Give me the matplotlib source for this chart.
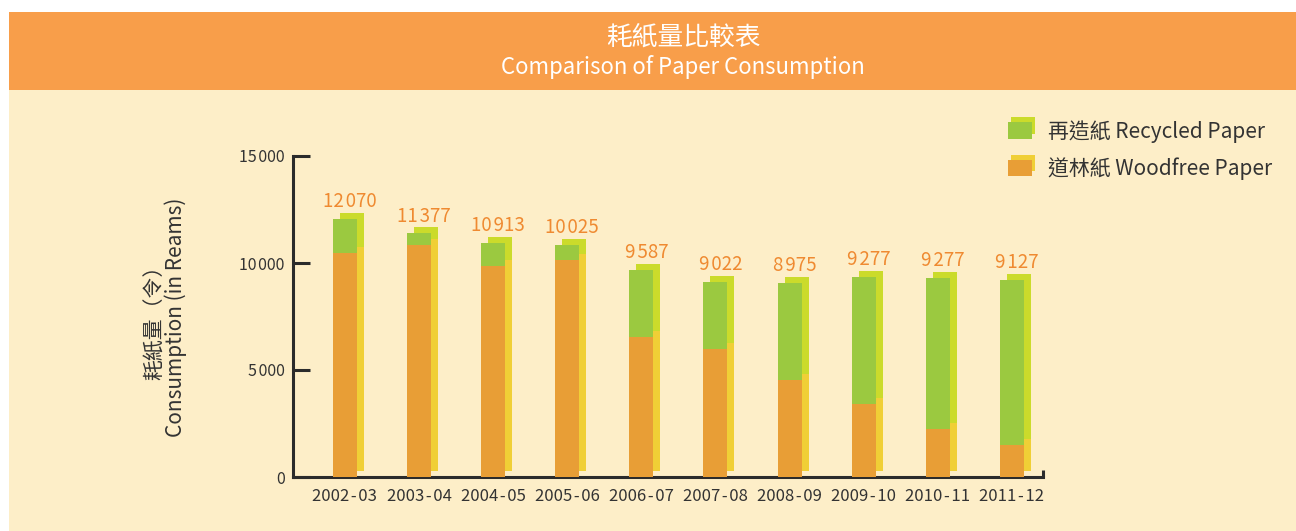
import matplotlib
matplotlib.use("Agg")
import matplotlib.pyplot as plt
import matplotlib.transforms as mtransforms
from matplotlib.patches import Rectangle, Patch
from matplotlib.legend_handler import HandlerBase
import numpy as np

plt.rcParams['font.family'] = ['Noto Sans CJK TC', 'DejaVu Sans']

# data
years = ['2002-03', '2003-04', '2004-05', '2005-06', '2006-07',
         '2007-08', '2008-09', '2009-10', '2010-11', '2011-12']
total_labels = [12070, 11377, 10913, 10025, 9587, 9022, 8975, 9277, 9277, 9127]
woodfree = [10460, 10835, 9855, 10130, 6540, 5980, 4530, 3410, 2240, 1495]
recycled = [1610, 545, 1060, 700, 3130, 3130, 4530, 5930, 7050, 7700]
y_ticks = [0, 5000, 10000, 15000]

# colours
BAND = '#F89E4A'
CREAM = '#FDEEC8'
ORANGE = '#E89E36'
GREEN = '#9BC940'
SH_YELLOW = '#F0CF36'
SH_GREEN = '#CBDB2B'
LABEL_ORANGE = '#EF8A31'
TEXT = '#333333'
AXIS = '#2B2B2B'

HAIR = '\u200a'


def fmt(v):
    return f'{v:,}'.replace(',', HAIR)


W, H = 1296, 531
fig = plt.figure(figsize=(W / 100, H / 100), dpi=100, facecolor='white')

# background panel + header band
fig.patches.append(Rectangle((9 / W, 0), 1, 1 - 90 / H, transform=fig.transFigure,
                             fc=CREAM, ec='none', zorder=-10))
fig.patches.append(Rectangle((9 / W, 1 - 90 / H), 1, 78 / H, transform=fig.transFigure,
                             fc=BAND, ec='none', zorder=-10))
fig.text(683 / W, 1 - 38 / H, '耗紙量比較表', color='white', fontsize=18.5,
         ha='center', va='center')
fig.text(683 / W, 1 - 67 / H, 'Comparison of Paper Consumption', color='white',
         fontsize=16, ha='center', va='center')

ax = fig.add_axes([293 / W, (H - 477) / H, 750 / W, 321 / H])
ax.set_facecolor('none')

x = np.arange(len(years))
bw = 0.324
tops = np.array(woodfree) + np.array(recycled)

# shadow bars shifted right/up
shift = ax.transData + mtransforms.ScaledTranslation(0.07, 0.06, fig.dpi_scale_trans)
sb1 = ax.bar(x, woodfree, bw, color=SH_YELLOW, zorder=2)
sb2 = ax.bar(x, recycled, bw, bottom=woodfree, color=SH_GREEN, zorder=2)
for r in list(sb1) + list(sb2):
    r.set_transform(shift)
    r.set_clip_on(False)

ax.bar(x, woodfree, bw, color=ORANGE, zorder=3)
ax.bar(x, recycled, bw, bottom=woodfree, color=GREEN, zorder=3)

for xi, top, lab in zip(x, tops, total_labels):
    ax.annotate(fmt(lab), (xi, top), xytext=(3.6, 8.6),
                textcoords='offset points', ha='center', va='baseline',
                color=LABEL_ORANGE, fontsize=13.5)

ax.set_xlim(-0.70, 9.42)
ax.set_ylim(0, 15000)
ax.set_xticks(x)
ax.set_xticklabels([y.replace('-', HAIR + '-' + HAIR) for y in years], fontsize=12, color=TEXT)
ax.set_yticks(y_ticks)
ax.set_yticklabels([fmt(v) for v in y_ticks], fontsize=11.5, color=TEXT)
ax.tick_params(axis='x', length=0, pad=8)
ax.tick_params(axis='y', direction='in', length=12.5, width=2.2, color=AXIS, pad=6)
ax.set_xticks([9.42], minor=True)
ax.tick_params(axis='x', which='minor', direction='in', length=5, width=2.2, color=AXIS)

for s in ['top', 'right']:
    ax.spines[s].set_visible(False)
for s in ['left', 'bottom']:
    ax.spines[s].set_linewidth(2.2)
    ax.spines[s].set_color(AXIS)
    ax.spines[s].set_capstyle('projecting')

fig.text(155 / W, 1 - 317 / H, '耗紙量（令）', rotation=90, fontsize=15,
         color=TEXT, ha='center', va='center')
fig.text(176 / W, 1 - 317 / H, 'Consumption (in Reams)', rotation=90, fontsize=15,
         color=TEXT, ha='center', va='center')


class ShadowHandler(HandlerBase):
    def __init__(self, front, back):
        super().__init__()
        self.front, self.back = front, back

    def create_artists(self, legend, orig_handle, xdescent, ydescent,
                       width, height, fontsize, trans):
        dx, dy = width * 0.14, height * 0.3
        back = Rectangle((-xdescent + dx, -ydescent + dy), width, height,
                         fc=self.back, ec='none', transform=trans)
        front = Rectangle((-xdescent, -ydescent), width, height,
                          fc=self.front, ec='none', transform=trans)
        return [back, front]


h1 = Patch(color=GREEN)
h2 = Patch(color=ORANGE)
leg = fig.legend([h1, h2], ['再造紙 Recycled Paper', '道林紙 Woodfree Paper'],
                 handler_map={h1: ShadowHandler(GREEN, SH_GREEN),
                              h2: ShadowHandler(ORANGE, SH_YELLOW)},
                 loc='upper left', bbox_to_anchor=(1008 / W, 1 - 120 / H),
                 frameon=False, fontsize=15, borderpad=0, borderaxespad=0,
                 handlelength=1.15, handleheight=0.82, handletextpad=0.75,
                 labelspacing=0.7)
for t in leg.get_texts():
    t.set_color(TEXT)

fig.savefig('out.png', dpi=100, facecolor='white')
